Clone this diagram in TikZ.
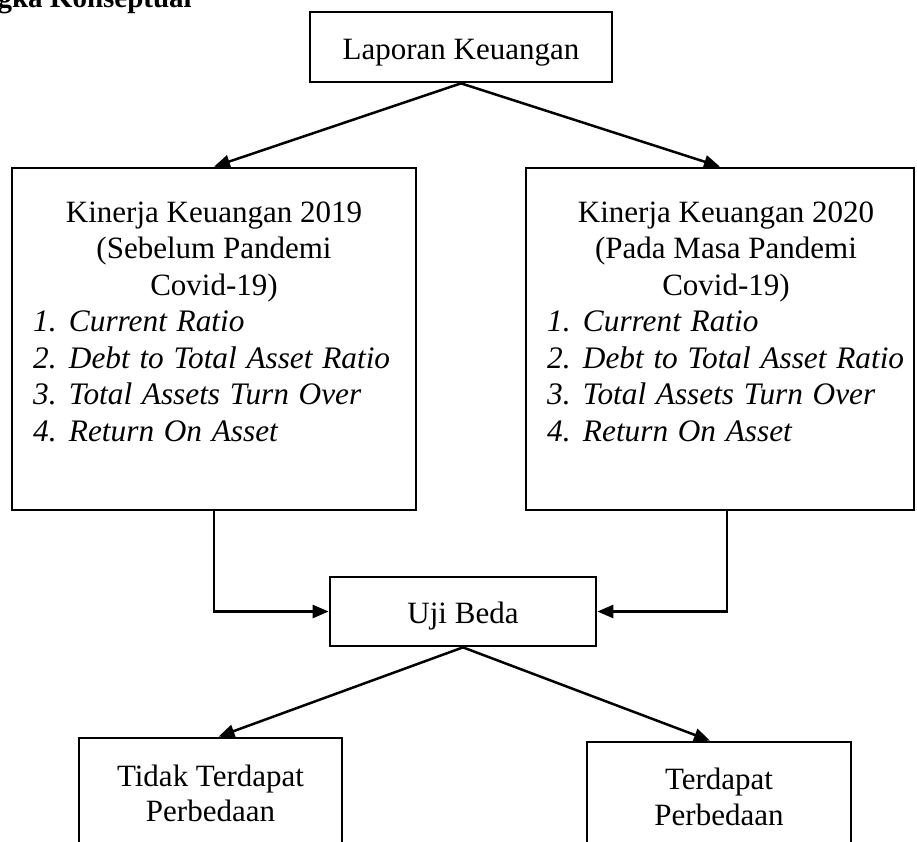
\documentclass[tikz,border=0pt]{standalone}
\usepackage{fontspec}
\setmainfont{Liberation Serif}
\usetikzlibrary{arrows.meta}
\newcommand\myitmfont{\fontsize{31.3}{36.7}\selectfont\itshape\spaceskip=0.31em\relax}
\tikzset{
  box/.style={draw, line width=2.7pt, rectangle, inner sep=0pt},
  txt/.style={inner sep=0pt, font=\fontsize{31}{36.7}\selectfont},
  itm/.style={inner sep=0pt, font=\myitmfont, anchor=base west},
  arr/.style={line width=2.5pt, -{Triangle[length=16pt,width=13pt]}},
}
\begin{document}
\begin{tikzpicture}[x=1pt,y=-1pt]
\useasboundingbox (0,0) rectangle (917,841);
% cut-off heading
\node[txt, anchor=base east, font=\fontsize{29}{34}\selectfont\bfseries] (title) at (192,7) {Kerangka Konseptual};
% boxes
\node[box, minimum width=302pt, minimum height=70pt] (lap) at (461,47) {};
\node[box, minimum width=404pt, minimum height=342pt] (k19) at (214,339) {};
\node[box, minimum width=388pt, minimum height=342pt] (k20) at (720,339) {};
\node[box, minimum width=266pt, minimum height=69pt] (uji) at (463,611.5) {};
\node[box, minimum width=263pt, minimum height=160pt] (tidak) at (210.5,818) {};
\node[box, minimum width=264pt, minimum height=160pt] (ada) at (719,822) {};
% texts
\node[txt, anchor=base] (lapt) at (461,59) {Laporan Keuangan};
\node[txt, anchor=base] (a1) at (214,222) {Kinerja Keuangan 2019};
\node[txt, anchor=base] (a2) at (214,258.5) {(Sebelum Pandemi};
\node[txt, anchor=base] (a3) at (214,295) {Covid-19)};
\node[itm] (a4) at (33,331.5) {1. Current Ratio};
\node[itm] (a5) at (33,368) {2. Debt to Total Asset Ratio};
\node[itm] (a6) at (33,404.5) {3. Total Assets Turn Over};
\node[itm] (a7) at (33,441) {4. Return On Asset};
\node[txt, anchor=base] (b1) at (726,222) {Kinerja Keuangan 2020};
\node[txt, anchor=base] (b2) at (726,258.5) {(Pada Masa Pandemi};
\node[txt, anchor=base] (b3) at (726,295) {Covid-19)};
\node[itm] (b4) at (547,331.5) {1. Current Ratio};
\node[itm] (b5) at (547,368) {2. Debt to Total Asset Ratio};
\node[itm] (b6) at (547,404.5) {3. Total Assets Turn Over};
\node[itm] (b7) at (547,441) {4. Return On Asset};
\node[txt, anchor=base] (ujit) at (463,623) {Uji Beda};
\node[txt, anchor=base] (c1) at (210.5,786) {Tidak Terdapat};
\node[txt, anchor=base] (c2) at (210.5,821) {Perbedaan};
\node[txt, anchor=base] (d1) at (719,789) {Terdapat};
\node[txt, anchor=base] (d2) at (719,825) {Perbedaan};
% connectors
\draw[arr] (lap.south) -- (k19.north);
\draw[arr] (lap.south) -- (k20.north);
\draw[arr] (k19.south) |- (uji.west);
\draw[arr] ([xshift=7pt]k20.south) |- (uji.east);
\draw[arr] (uji.south) -- ([xshift=8pt]tidak.north);
\draw[arr] (uji.south) -- ([xshift=-9pt]ada.north);
\end{tikzpicture}
\end{document}
